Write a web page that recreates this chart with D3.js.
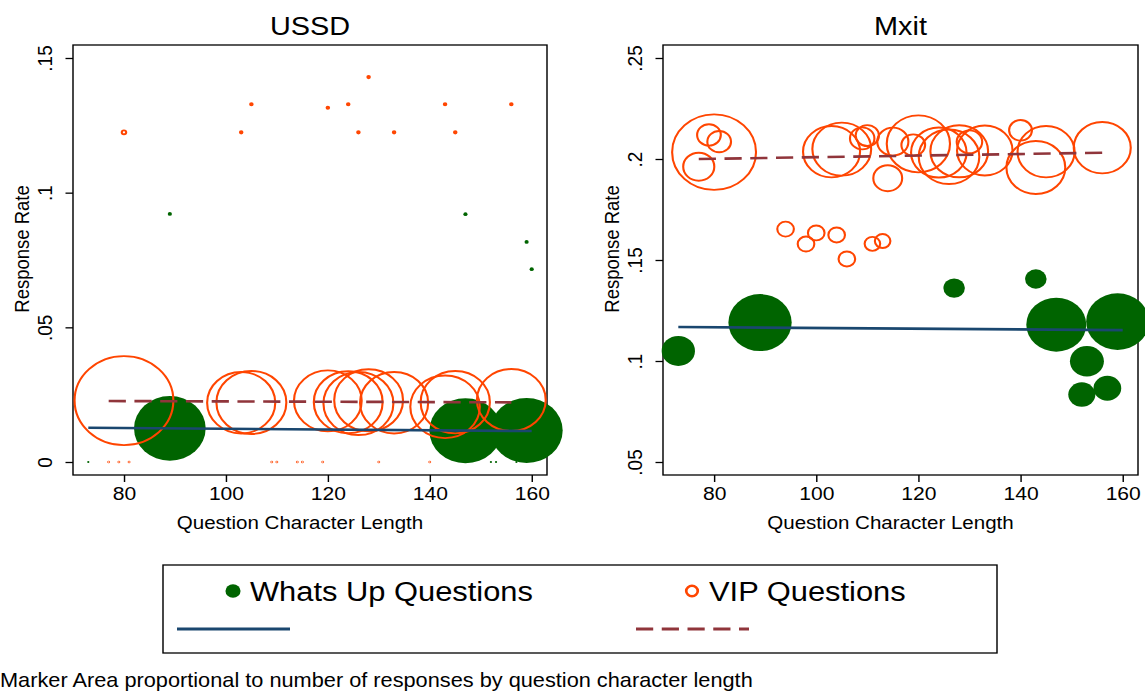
<!DOCTYPE html>
<html><head><meta charset="utf-8">
<script src="https://cdn.jsdelivr.net/npm/d3@7"></script>
<style>body{margin:0;background:#fff}text{font-family:"Liberation Sans",Arial,sans-serif;fill:#000}</style>
</head><body>
<svg id="c" width="1145" height="691"></svg>
<script>
// ---------- data ----------
const panelTitles = ["USSD", "Mxit"];
const xTicks = [80, 100, 120, 140, 160];
const ussdYTicks = [0, 0.05, 0.1, 0.15];
const ussdYTickLabels = ["0", ".05", ".1", ".15"];
const mxitYTicks = [0.05, 0.1, 0.15, 0.2, 0.25];
const mxitYTickLabels = [".05", ".1", ".15", ".2", ".25"];
const seriesNames = ["Whats Up Questions", "VIP Questions"];
const xTitle = "Question Character Length";
const yTitle = "Response Rate";
const noteText = "Marker Area proportional to number of responses by question character length";

// USSD - VIP questions (hollow)
const ussdVipX = [80,103,105,120,124,126,128,133,143,145,156, 80,103,105,120,124,126,128,133,143,145,156, 77,79,81,109,110,114,115,119,130,140];
const ussdVipY = [0.0228,0.0220,0.0221,0.0227,0.0222,0.0217,0.0229,0.0220,0.0205,0.0222,0.0230,
                  0.1224,0.1224,0.1328,0.1315,0.1328,0.1224,0.1429,0.1224,0.1328,0.1224,0.1328,
                  0,0,0,0,0,0,0,0,0,0];
const ussdVipN = [1980,942,992,930,961,992,961,942,980,973,961,
                  4,1.2,1.2,1.2,1.2,1.2,1.2,1.2,1.2,1.2,1.2,
                  0.1,0.1,0.1,0.1,0.1,0.1,0.1,0.1,0.1,0.1];
// USSD - Whats Up questions (filled)
const ussdWuX = [89,147,159, 89,147,159,160, 73,152,153,157];
const ussdWuY = [0.0125,0.0116,0.0117, 0.0921,0.0920,0.0817,0.0716, 0,0,0,0];
const ussdWuN = [1043,1056,1056, 3.5,3.5,3.5,3.5, 1,1,1,1];
// USSD fitted lines (end points)
const ussdWuFitX = [73, 160], ussdWuFitY = [0.0127, 0.0115];
const ussdVipFitX = [77, 156], ussdVipFitY = [0.02264, 0.02215];

// Mxit - VIP questions
const mxitVipX = [80,79,81,77,103,105,109,110,114,115,119,120,124,126,128,130,133,140,143,145,156, 94,98,100,104,106,111,113];
const mxitVipY = [0.2034,0.2119,0.2086,0.1962,0.2036,0.2049,0.2102,0.2116,0.1905,0.2086,0.2069,0.2075,0.2032,0.2011,0.2038,0.2085,0.2042,0.2142,0.1958,0.2036,0.2056,
                  0.1653,0.1579,0.1634,0.1624,0.1505,0.1580,0.1594];
const mxitVipN = [1428,114,114,196,660,702,121,110,169,196,114,812,625,745,676,132,625,106,702,660,660,
                  56,56,56,56,56,49,49];
// Mxit - Whats Up questions
const mxitWuX = [73,89,127,143,147,159,153,157,152];
const mxitWuY = [0.105,0.119,0.1361,0.1406,0.118,0.1195,0.0999,0.0865,0.0834];
const mxitWuN = [225,812,94,94,729,801,234,156,149];
// Mxit fitted lines
const mxitWuFitX = [73, 160], mxitWuFitY = [0.1168, 0.1153];
const mxitVipFitX = [77, 156], mxitVipFitY = [0.2000, 0.2031];

// ---------- style ----------
const SX = 1.11;               // horizontal stretch of the reference picture
const GREEN = "#006400", ORANGE = "#ff4500", NAVY = "#1a476f", MAROON = "#90353b";

const svg = d3.select("#c");
const root = svg.append("g").attr("transform", `scale(${SX},1)`);
const rScale = d3.scaleSqrt().domain([0, 2500]).range([0, 50]);

function zip(xs, ys, ns) { return xs.map((x, i) => ({x, y: ys[i], n: ns ? ns[i] : 0})); }

function panel(cfg) {
  const g = root.append("g");
  const xs = d3.scaleLinear().domain([70, 163]).range([cfg.left / SX, cfg.right / SX]);
  const ys = d3.scaleLinear().domain(cfg.yDom).range([462, 58]);
  const top = 45, bottom = 475;
  const cx = (xs(70) + xs(163)) / 2;

  // title
  g.append("text").attr("x", cx).attr("y", 35)
    .attr("text-anchor", "middle").style("font-size", "26px").text(cfg.title);

  // plot box
  g.append("rect").attr("x", xs(70)).attr("y", top)
    .attr("width", xs(163) - xs(70)).attr("height", bottom - top)
    .attr("fill", "none").attr("stroke", "#000").attr("stroke-width", 1.3);

  // x axis
  const xa = g.append("g").attr("transform", `translate(0,${bottom})`)
    .call(d3.axisBottom(xs).tickValues(xTicks).tickSize(7).tickSizeOuter(0).tickPadding(5).tickFormat(d3.format("d")));
  xa.select(".domain").remove();
  xa.selectAll("line").attr("stroke", "#000").attr("stroke-width", 1.3);
  xa.selectAll("text").style("font-size", "19px").attr("font-family", null).attr("fill", "#000");

  // y axis
  const ya = g.append("g").attr("transform", `translate(${xs(70)},0)`)
    .call(d3.axisLeft(ys).tickValues(cfg.yTicks).tickSize(7.5 / SX).tickSizeOuter(0)
      .tickFormat((d, i) => cfg.yLabels[i]));
  ya.select(".domain").remove();
  ya.selectAll("line").attr("stroke", "#000").attr("stroke-width", 1.3);
  ya.selectAll("text").attr("transform", "rotate(-90)").attr("x", 0).attr("y", -21 / SX)
    .attr("dy", null).attr("text-anchor", "middle").style("font-size", "19px").attr("fill", "#000");

  // axis titles
  g.append("text").attr("x", cx - 10 / SX).attr("y", 529)
    .attr("text-anchor", "middle").style("font-size", "18.5px").text(xTitle);
  g.append("text").attr("transform", `translate(${xs(70) - 44 / SX},${(top + bottom) / 2 - 11}) rotate(-90)`)
    .attr("text-anchor", "middle").style("font-size", "18.5px").text(yTitle);

  // markers: whats up (filled), then VIP (hollow)
  g.append("g").selectAll("circle").data(cfg.wu).join("circle")
    .attr("cx", d => xs(d.x)).attr("cy", d => ys(d.y)).attr("r", d => rScale(d.n))
    .attr("fill", GREEN);
  g.append("g").selectAll("circle").data(cfg.vip).join("circle")
    .attr("cx", d => xs(d.x)).attr("cy", d => ys(d.y)).attr("r", d => rScale(d.n))
    .attr("fill", "none").attr("stroke", ORANGE).attr("stroke-width", 1.9);

  // fitted lines
  const line = d3.line().x(d => xs(d.x)).y(d => ys(d.y));
  g.append("path").attr("d", line(cfg.wuFit)).attr("fill", "none")
    .attr("stroke", NAVY).attr("stroke-width", 2.6);
  g.append("path").attr("d", line(cfg.vipFit)).attr("fill", "none")
    .attr("stroke", MAROON).attr("stroke-width", 2.6).attr("stroke-dasharray", "15.5 7.7");
}

panel({title: panelTitles[0], left: 73, right: 547, yDom: [0, 0.15], yTicks: ussdYTicks, yLabels: ussdYTickLabels,
  wu: zip(ussdWuX, ussdWuY, ussdWuN), vip: zip(ussdVipX, ussdVipY, ussdVipN),
  wuFit: zip(ussdWuFitX, ussdWuFitY), vipFit: zip(ussdVipFitX, ussdVipFitY)});
panel({title: panelTitles[1], left: 663, right: 1138, yDom: [0.05, 0.25], yTicks: mxitYTicks, yLabels: mxitYTickLabels,
  wu: zip(mxitWuX, mxitWuY, mxitWuN), vip: zip(mxitVipX, mxitVipY, mxitVipN),
  wuFit: zip(mxitWuFitX, mxitWuFitY), vipFit: zip(mxitVipFitX, mxitVipFitY)});

// ---------- legend ----------
const lg = root.append("g");
lg.append("rect").attr("x", 163 / SX).attr("y", 565).attr("width", (997 - 163) / SX).attr("height", 88)
  .attr("fill", "none").attr("stroke", "#000").attr("stroke-width", 1.3);
lg.append("circle").attr("cx", 233 / SX).attr("cy", 591).attr("r", 6.8).attr("fill", GREEN);
lg.append("text").attr("x", 250 / SX).attr("y", 601).style("font-size", "27.8px").text(seriesNames[0]);
lg.append("circle").attr("cx", 692 / SX).attr("cy", 591).attr("r", 5.2).attr("fill", "none")
  .attr("stroke", ORANGE).attr("stroke-width", 2.4);
lg.append("text").attr("x", 709 / SX).attr("y", 601).style("font-size", "27.8px").text(seriesNames[1]);
lg.append("line").attr("x1", 177 / SX).attr("x2", 290 / SX).attr("y1", 629).attr("y2", 629)
  .attr("stroke", NAVY).attr("stroke-width", 3);
lg.append("line").attr("x1", 636 / SX).attr("x2", 749 / SX).attr("y1", 629).attr("y2", 629)
  .attr("stroke", MAROON).attr("stroke-width", 3).attr("stroke-dasharray", "15.5 7.7");

// ---------- note ----------
root.append("text").attr("x", 0).attr("y", 687).style("font-size", "19.6px").text(noteText);
</script>
</body></html>
